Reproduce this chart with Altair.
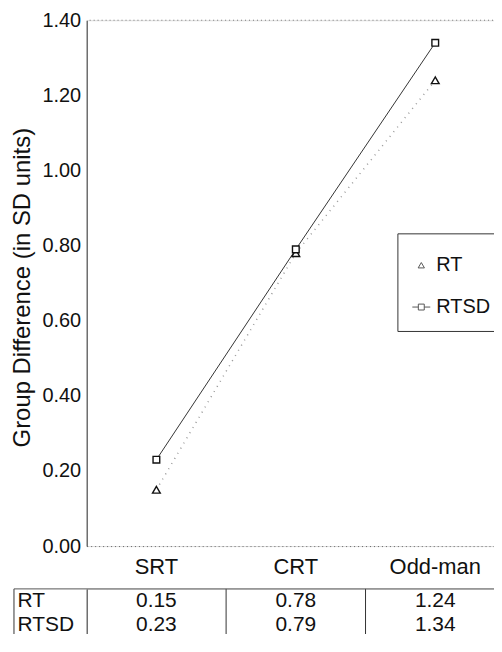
import altair as alt
import pandas as pd

categories = ["SRT", "CRT", "Odd-man"]
series_names = ["RT", "RTSD"]
rt_values = [0.15, 0.78, 1.24]
rtsd_values = [0.23, 0.79, 1.34]
y_ticks = [0.0, 0.2, 0.4, 0.6, 0.8, 1.0, 1.2, 1.4]

rows = []
for s, vals in zip(series_names, [rt_values, rtsd_values]):
    for i, (c, v) in enumerate(zip(categories, vals)):
        rows.append({"category": c, "series": s, "value": v, "idx": i})
df = pd.DataFrame(rows)

FONT = "Liberation Sans"
INK = "#111111"
W = 412
H = 528
TH = 48

x_scale = alt.Scale(type="band", domain=categories, range=[0, 420],
                    paddingInner=0, paddingOuter=0)
y_scale = alt.Scale(domain=[0, 1.4], nice=False, zero=True)

x_enc = alt.X("category:N", scale=x_scale,
              axis=alt.Axis(title=None, labelFontSize=22, labelPadding=11, labelAngle=0,
                            ticks=False, domainDash=[1, 3], domainColor="#666666",
                            labelColor=INK, labelFont=FONT))
y_enc = alt.Y("value:Q", scale=y_scale,
              axis=alt.Axis(values=y_ticks, format=".2f",
                            title="Group Difference (in SD units)",
                            titleFontSize=24, titleFontWeight="normal", titlePadding=7,
                            titleY=268,
                            labelFontSize=20, labelPadding=6, ticks=False, grid=False,
                            domainColor="#333333", labelColor=INK, titleColor=INK,
                            labelFont=FONT, titleFont=FONT))

top_df = pd.DataFrame({"v": [y_ticks[-1]]})
top_rule = alt.Chart(top_df).mark_rule(color="#777777", strokeDash=[1, 3], strokeWidth=1).encode(
    y=alt.Y("v:Q", scale=y_scale)
)

base = alt.Chart(df)
rt_line = base.transform_filter(alt.datum.series == "RT").mark_line(
    color="#999999", strokeWidth=1.5, strokeDash=[1, 5]
).encode(x=x_enc, y=y_enc, order=alt.Order("idx:Q"))
rtsd_line = base.transform_filter(alt.datum.series == "RTSD").mark_line(
    color="#333333", strokeWidth=1
).encode(x=x_enc, y=y_enc, order=alt.Order("idx:Q"))
rt_pts = base.transform_filter(alt.datum.series == "RT").mark_point(
    shape="triangle-up", size=60, filled=True, fill="white", stroke=INK, strokeWidth=1.4, opacity=1
).encode(x=x_enc, y=y_enc)
rtsd_pts = base.transform_filter(alt.datum.series == "RTSD").mark_point(
    shape="square", size=45, filled=True, fill="white", stroke=INK, strokeWidth=1.4, opacity=1
).encode(x=x_enc, y=y_enc)

tri_path = "M0,-0.3L0.35,0.3L-0.35,0.3Z"
sq_path = "M-1,0L-0.33,0M0.33,0L1,0M-0.33,-0.33L0.33,-0.33L0.33,0.33L-0.33,0.33Z"
legend_layer = base.transform_filter("false").mark_point(filled=False, color=INK).encode(
    shape=alt.Shape("series:N", scale=alt.Scale(domain=series_names, range=[tri_path, sq_path]),
                    legend=alt.Legend(orient="none", legendX=312, legendY=214,
                                      title=" ", titleFontSize=6, titlePadding=2,
                                      symbolSize=324, symbolStrokeWidth=1,
                                      symbolStrokeColor=INK,
                                      labelFontSize=20, labelOffset=5, labelFont=FONT,
                                      labelColor=INK, padding=14, rowPadding=22,
                                      strokeColor="#333333"))
)

main = alt.layer(top_rule, rt_line, rtsd_line, rt_pts, rtsd_pts, legend_layer).properties(
    width=W, height=H
)

# table below
tbl_x = alt.X("category:N", scale=x_scale, axis=None)
tbl_y = alt.Y("series:N", scale=alt.Scale(domain=series_names, paddingInner=0, paddingOuter=0),
              axis=alt.Axis(title=None, labelAlign="left", labelPadding=70, ticks=False,
                            labelFontSize=21, domainColor="#333333", labelColor=INK,
                            labelFont=FONT))
text = alt.Chart(df).mark_text(fontSize=21, font=FONT, color=INK).encode(
    x=tbl_x, y=tbl_y, text=alt.Text("value:Q", format=".2f")
)
col_df = pd.DataFrame({"category": categories[1:]})
col_rules = alt.Chart(col_df).mark_rule(color="#333333", strokeWidth=1).encode(
    x=alt.X("category:N", scale=x_scale, axis=None, bandPosition=0),
    y=alt.value(0), y2=alt.value(TH)
)
one = pd.DataFrame({"k": [0]})
left_rule = alt.Chart(one).mark_rule(color="#333333", strokeWidth=1).encode(
    x=alt.value(-73), y=alt.value(0), y2=alt.value(TH)
)
top_rule_t = alt.Chart(one).mark_rule(color="#555555", strokeWidth=1).encode(
    x=alt.value(-73), x2=alt.value(W), y=alt.value(0)
)
table = alt.layer(col_rules, left_rule, top_rule_t, text).properties(width=W, height=TH)

chart = alt.vconcat(main, table, spacing=9).resolve_scale(
    x="independent", y="independent"
).properties(
    padding={"left": 2, "top": 0, "right": -12, "bottom": -5}
).configure_view(strokeWidth=0).configure(font=FONT)

chart.save("out.html", embed_options={"renderer": "svg", "actions": False})
